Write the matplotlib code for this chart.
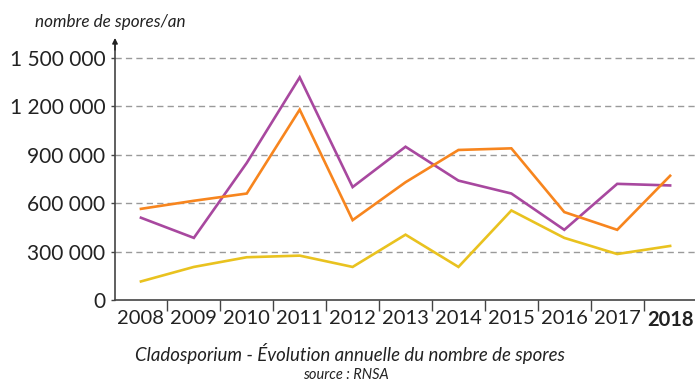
import matplotlib
matplotlib.use("Agg")
import matplotlib.pyplot as plt
from matplotlib.ticker import FixedLocator

years = [2008, 2009, 2010, 2011, 2012, 2013, 2014, 2015, 2016, 2017, 2018]
purple_series = [510000, 385000, 850000, 1380000, 700000, 950000, 740000, 660000, 435000, 720000, 710000]
orange_series = [565000, 615000, 660000, 1180000, 495000, 730000, 930000, 940000, 545000, 435000, 770000]
yellow_series = [115000, 205000, 265000, 275000, 205000, 405000, 205000, 555000, 385000, 285000, 335000]
y_ticks = [0, 300000, 600000, 900000, 1200000, 1500000]
y_tick_labels = ["0", "300 000", "600 000", "900 000", "1 200 000", "1 500 000"]

plt.rcParams['font.family'] = ['Lato', 'DejaVu Sans']

fig = plt.figure(figsize=(6.95, 3.83), dpi=100)
ax = fig.add_axes([115 / 695, 1 - 300 / 383, 580 / 695, 262 / 383])

ax.set_xlim(2007.51, 2018.47)
ax.set_ylim(0, 1500000 * 262 / 242)

ax.plot(years, purple_series, color="#a8489f", lw=1.9, solid_joinstyle="miter", zorder=3)
ax.plot(years, orange_series, color="#f7851e", lw=1.9, solid_joinstyle="miter", zorder=3)
ax.plot(years, yellow_series, color="#e9c21f", lw=1.9, solid_joinstyle="miter", zorder=3)

# dashed horizontal guides
for v in y_ticks[1:]:
    ax.axhline(v, color="#9a9a9a", lw=1.0, dashes=(4.5, 3), zorder=1)

for s in ["top", "right"]:
    ax.spines[s].set_visible(False)
ax.spines["left"].set_color("#444444")
ax.spines["bottom"].set_color("#444444")
ax.spines["left"].set_linewidth(1.2)
ax.spines["bottom"].set_linewidth(1.2)
ax.spines["left"].set_bounds(0, 1500000 * 255 / 242)

# arrow head at top of the vertical axis
ax.annotate("", xy=(2007.51, 1500000 * 262 / 242), xytext=(2007.51, 1500000 * 250 / 242),
            arrowprops=dict(arrowstyle="-|>", color="#222222", lw=1.0,
                            mutation_scale=8, shrinkA=0, shrinkB=0),
            annotation_clip=False)

ax.set_yticks(y_ticks)
ax.set_yticklabels(y_tick_labels, fontsize=15, color="#222222")
ax.tick_params(axis="y", length=3, width=1, color="#444444", pad=4)

# year labels centred, tick marks between years
ax.set_xticks(years)
ax.set_xticklabels([str(y) for y in years], fontsize=14.5, color="#222222")
ax.tick_params(axis="x", which="major", length=0, pad=7)
ax.xaxis.set_minor_locator(FixedLocator([y + 0.5 for y in years[:-1]]))
ax.tick_params(axis="x", which="minor", length=8, width=1, color="#444444", direction="out")
ax.get_xticklabels()[-1].set_fontweight("bold")

fig.text(35 / 695, 1 - 22 / 383, "nombre de spores/an", fontsize=12.3, style="italic",
         color="#222222", ha="left", va="center")
fig.text(350 / 695, 1 - 354 / 383, "Cladosporium - \u00c9volution annuelle du nombre de spores",
         fontsize=13.4, style="italic", color="#222222", ha="center", va="center")
fig.text(346 / 695, 1 - 375 / 383, "source : RNSA", fontsize=10.5, style="italic",
         color="#222222", ha="center", va="center")

fig.savefig("out.png", dpi=100)
